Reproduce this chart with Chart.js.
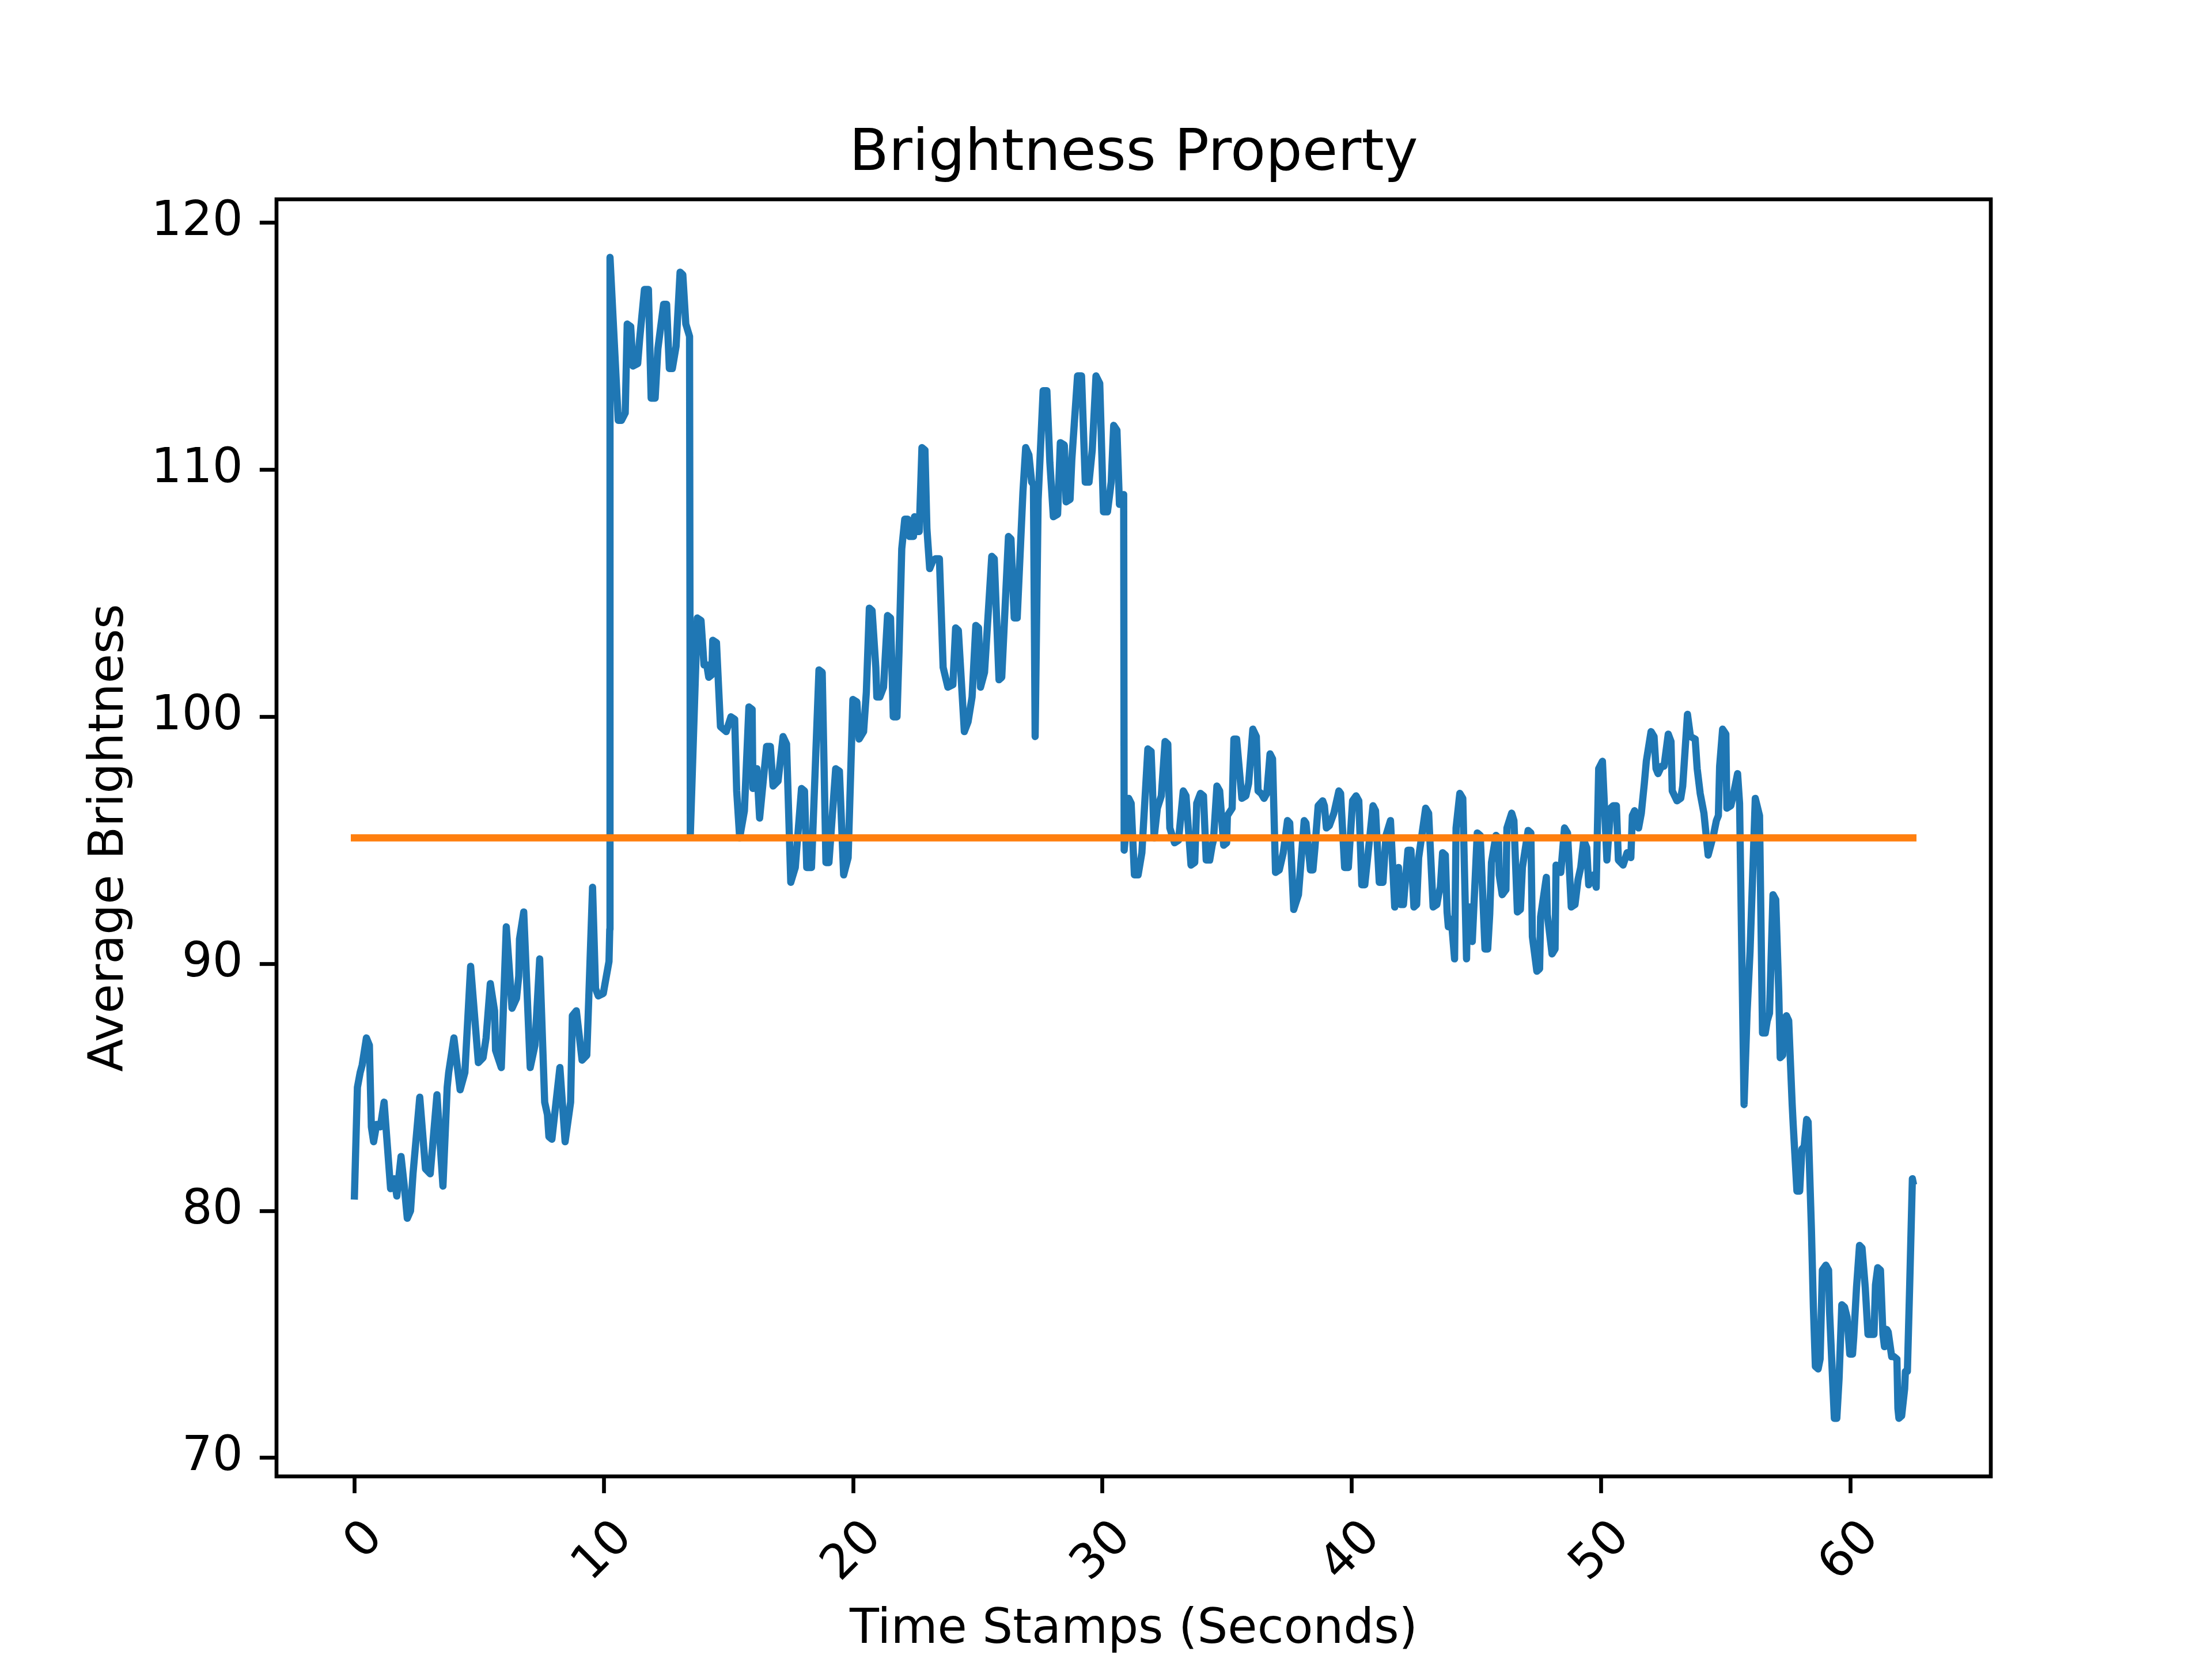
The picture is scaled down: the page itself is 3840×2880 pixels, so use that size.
<!DOCTYPE html>
<html>
<head>
<meta charset="utf-8">
<title>Brightness Property</title>
<script src="https://cdn.jsdelivr.net/npm/chart.js@4.4.0/dist/chart.umd.min.js"></script>
<style>
  html, body { margin: 0; padding: 0; background: #fff; }
  canvas { display: block; }
</style>
</head>
<body>
<canvas id="brightness" width="3840" height="2880"></canvas>
<script>
// ===== Data =====

const chartTitle = 'Brightness Property';
const xAxisTitle = 'Time Stamps (Seconds)';
const yAxisTitle = 'Average Brightness';

// time stamps (seconds) of the brightness samples
const timeStamps = [
    0.00, 0.12, 0.23, 0.31, 0.48, 0.60, 0.68, 0.77, 0.89, 1.04, 1.19, 1.45, 1.60, 1.70, 1.87, 2.00,
    2.12, 2.25, 2.35, 2.62, 2.85, 3.04, 3.31, 3.55, 3.72, 3.78, 3.99, 4.24, 4.43, 4.66, 4.97, 5.16,
    5.28, 5.45, 5.62, 5.66, 5.89, 6.09, 6.24, 6.32, 6.50, 6.59, 6.62, 6.79, 7.05, 7.24, 7.43, 7.63,
    7.74, 7.80, 7.92, 8.24, 8.45, 8.67, 8.74, 8.90, 9.13, 9.32, 9.55, 9.67, 9.78, 9.98, 10.21, 10.24,
    10.25, 10.58, 10.71, 10.86, 10.94, 11.08, 11.17, 11.36, 11.44, 11.63, 11.79, 11.90, 12.06, 12.17, 12.40, 12.52,
    12.63, 12.75, 12.90, 13.06, 13.17, 13.29, 13.44, 13.47, 13.60, 13.75, 13.90, 14.02, 14.13, 14.21, 14.33, 14.37,
    14.52, 14.68, 14.91, 15.10, 15.25, 15.33, 15.45, 15.64, 15.82, 15.95, 15.98, 16.14, 16.25, 16.53, 16.68, 16.79,
    16.99, 17.19, 17.33, 17.50, 17.68, 17.93, 18.05, 18.14, 18.33, 18.63, 18.76, 18.91, 19.03, 19.30, 19.45, 19.62,
    19.80, 19.99, 20.15, 20.24, 20.42, 20.53, 20.65, 20.76, 20.91, 20.95, 21.07, 21.22, 21.38, 21.50, 21.61, 21.76,
    21.84, 21.95, 22.07, 22.19, 22.26, 22.42, 22.46, 22.50, 22.65, 22.76, 22.88, 22.96, 23.07, 23.19, 23.30, 23.46,
    23.61, 23.80, 24.00, 24.11, 24.22, 24.46, 24.61, 24.77, 24.92, 25.03, 25.11, 25.27, 25.56, 25.66, 25.85, 25.96,
    26.23, 26.33, 26.46, 26.58, 26.81, 26.92, 27.05, 27.16, 27.23, 27.30, 27.42, 27.62, 27.77, 27.89, 28.03, 28.20,
    28.31, 28.47, 28.54, 28.70, 28.77, 29.00, 29.16, 29.31, 29.46, 29.59, 29.74, 29.89, 30.04, 30.20, 30.35, 30.45,
    30.58, 30.68, 30.85, 30.87, 31.05, 31.15, 31.28, 31.43, 31.58, 31.82, 31.95, 32.00, 32.07, 32.20, 32.36, 32.51,
    32.62, 32.70, 32.89, 33.05, 33.24, 33.35, 33.55, 33.70, 33.78, 33.93, 34.05, 34.16, 34.30, 34.40, 34.45, 34.59,
    34.70, 34.86, 34.98, 35.01, 35.20, 35.27, 35.38, 35.59, 35.75, 35.86, 36.03, 36.17, 36.24, 36.36, 36.48, 36.59,
    36.72, 36.82, 36.94, 37.09, 37.25, 37.42, 37.51, 37.67, 37.86, 38.09, 38.16, 38.34, 38.44, 38.52, 38.65, 38.83,
    38.90, 38.98, 39.10, 39.28, 39.48, 39.55, 39.71, 39.86, 40.03, 40.17, 40.28, 40.40, 40.52, 40.85, 40.95, 41.10,
    41.25, 41.37, 41.55, 41.72, 41.87, 41.95, 42.07, 42.25, 42.37, 42.49, 42.60, 42.68, 42.96, 43.08, 43.26, 43.41,
    43.48, 43.55, 43.64, 43.75, 43.82, 43.87, 43.99, 44.12, 44.18, 44.33, 44.45, 44.60, 44.64, 44.80, 44.83, 45.03,
    45.15, 45.34, 45.45, 45.53, 45.60, 45.78, 45.88, 45.91, 46.03, 46.18, 46.22, 46.41, 46.50, 46.64, 46.76, 46.84,
    47.07, 47.18, 47.24, 47.42, 47.53, 47.57, 47.80, 47.84, 48.03, 48.15, 48.19, 48.38, 48.53, 48.65, 48.80, 48.95,
    49.07, 49.18, 49.30, 49.42, 49.50, 49.69, 49.80, 49.90, 50.05, 50.23, 50.38, 50.48, 50.61, 50.69, 50.88, 51.04,
    51.19, 51.25, 51.34, 51.50, 51.61, 51.73, 51.81, 52.00, 52.12, 52.20, 52.28, 52.42, 52.52, 52.69, 52.80, 52.85,
    53.04, 53.19, 53.27, 53.46, 53.58, 53.77, 53.85, 53.97, 54.12, 54.29, 54.50, 54.62, 54.70, 54.75, 54.87, 55.00,
    55.04, 55.20, 55.31, 55.47, 55.55, 55.73, 55.85, 55.97, 56.18, 56.35, 56.47, 56.58, 56.66, 56.75, 56.89, 57.00,
    57.12, 57.18, 57.28, 57.31, 57.43, 57.52, 57.66, 57.70, 57.85, 57.96, 58.05, 58.14, 58.24, 58.30, 58.35, 58.43,
    58.51, 58.59, 58.70, 58.78, 58.87, 59.01, 59.12, 59.16, 59.35, 59.45, 59.54, 59.65, 59.76, 59.86, 59.97, 60.08,
    60.13, 60.24, 60.36, 60.46, 60.59, 60.70, 60.82, 60.94, 61.00, 61.09, 61.20, 61.30, 61.36, 61.45, 61.51, 61.65,
    61.74, 61.86, 61.90, 61.94, 62.05, 62.17, 62.20, 62.28, 62.37, 62.48, 62.50
];

// average brightness at each time stamp
const brightness = [
    80.6, 85.0, 85.6, 85.9, 87.0, 86.7, 83.4, 82.8, 83.5, 83.4, 84.4, 80.9, 81.3, 80.6, 82.2, 81.0,
    79.7, 80.0, 81.5, 84.6, 81.7, 81.5, 84.7, 81.0, 85.0, 85.6, 87.0, 84.9, 85.6, 89.9, 86.0, 86.2,
    87.0, 89.2, 88.1, 86.5, 85.8, 91.5, 89.4, 88.2, 88.6, 89.5, 91.0, 92.1, 85.8, 86.7, 90.2, 84.4,
    83.9, 83.0, 82.9, 85.8, 82.8, 84.4, 87.9, 88.1, 86.1, 86.3, 93.1, 89.0, 88.7, 88.8, 90.1, 91.4,
    118.6, 112.0, 112.0, 112.3, 115.9, 115.8, 114.2, 114.3, 115.3, 117.3, 117.3, 112.9, 112.9, 114.9, 116.7, 116.7,
    114.1, 114.1, 115.0, 118.0, 117.9, 115.9, 115.4, 95.2, 99.3, 104.0, 103.9, 102.1, 102.1, 101.6, 101.7, 103.1,
    103.0, 99.6, 99.4, 100.0, 99.9, 97.0, 95.1, 96.2, 100.4, 100.3, 97.1, 97.9, 95.9, 98.8, 98.8, 97.2,
    97.4, 99.2, 98.9, 93.3, 93.9, 97.1, 97.0, 93.9, 93.9, 101.9, 101.8, 94.1, 94.1, 97.9, 97.8, 93.6,
    94.3, 100.7, 100.6, 99.1, 99.4, 101.0, 104.4, 104.3, 102.0, 100.8, 100.8, 101.2, 104.1, 104.0, 100.0, 100.0,
    102.6, 106.8, 108.0, 108.0, 107.3, 107.3, 108.1, 107.5, 107.5, 110.9, 110.8, 107.6, 106.0, 106.3, 106.4, 106.4,
    102.0, 101.2, 101.3, 103.6, 103.5, 99.4, 99.8, 100.8, 103.7, 103.6, 101.2, 101.8, 106.5, 106.4, 101.5, 101.6,
    107.3, 107.2, 104.0, 104.0, 109.1, 110.9, 110.6, 109.5, 109.4, 99.2, 108.8, 113.2, 113.2, 110.3, 108.1, 108.2,
    111.1, 111.0, 108.7, 108.8, 110.4, 113.8, 113.8, 109.5, 109.5, 110.8, 113.8, 113.5, 108.3, 108.3, 109.5, 111.8,
    111.6, 108.6, 109.0, 94.6, 96.7, 96.5, 93.6, 93.6, 94.5, 98.7, 98.6, 97.3, 95.1, 96.3, 96.8, 99.0,
    98.9, 95.5, 94.9, 95.0, 97.0, 96.8, 94.0, 94.1, 96.5, 96.9, 96.8, 94.2, 94.2, 94.8, 95.0, 97.2,
    97.0, 94.8, 94.9, 96.0, 96.3, 99.1, 99.1, 96.7, 96.8, 97.3, 99.5, 99.2, 97.0, 96.9, 96.7, 96.9,
    98.5, 98.3, 93.7, 93.8, 94.5, 95.8, 95.7, 92.2, 92.8, 95.8, 95.7, 93.8, 93.8, 94.7, 96.4, 96.6,
    96.4, 95.5, 95.6, 96.1, 97.0, 96.9, 93.9, 93.9, 96.6, 96.8, 96.6, 93.2, 93.2, 96.4, 96.2, 93.3,
    93.3, 95.2, 95.8, 92.3, 93.9, 92.4, 92.4, 94.6, 94.6, 92.3, 92.4, 94.3, 96.3, 96.1, 92.3, 92.4,
    92.8, 93.1, 94.5, 94.4, 92.1, 91.5, 91.8, 90.2, 95.5, 96.9, 96.7, 90.2, 92.3, 92.3, 90.9, 95.3,
    95.2, 90.6, 90.6, 92.0, 94.1, 95.2, 95.1, 93.6, 92.8, 93.0, 95.5, 96.1, 95.8, 92.1, 92.2, 93.9,
    95.4, 95.3, 91.1, 89.7, 89.8, 91.9, 93.5, 92.0, 90.4, 90.6, 94.0, 93.7, 95.5, 95.3, 92.3, 92.4,
    93.4, 93.9, 95.0, 94.7, 93.2, 93.6, 93.1, 97.9, 98.2, 94.2, 96.3, 96.4, 96.4, 94.2, 94.0, 94.5,
    94.3, 96.0, 96.2, 95.5, 96.1, 97.3, 98.2, 99.4, 99.2, 97.9, 97.7, 98.0, 98.0, 99.3, 99.0, 97.0,
    96.6, 96.7, 97.2, 100.1, 99.2, 99.1, 97.9, 96.9, 96.1, 94.4, 95.2, 95.8, 96.0, 98.0, 99.5, 99.3,
    96.3, 96.4, 96.9, 97.7, 96.5, 84.3, 88.0, 90.5, 96.7, 96.0, 87.2, 87.2, 87.7, 88.0, 92.8, 92.6,
    88.9, 86.2, 86.3, 87.7, 87.9, 87.7, 84.3, 83.5, 80.8, 80.8, 82.5, 82.6, 83.7, 83.6, 81.9, 79.3,
    76.1, 73.7, 73.6, 74.0, 77.6, 77.8, 77.6, 75.9, 71.6, 71.6, 73.2, 76.2, 76.1, 75.7, 74.2, 74.2,
    74.9, 76.9, 78.6, 78.5, 76.9, 75.0, 75.0, 75.0, 77.0, 77.7, 77.6, 75.0, 74.5, 75.2, 75.1, 74.1,
    74.1, 74.0, 72.0, 71.6, 71.7, 72.8, 73.5, 73.5, 76.9, 81.3, 81.2
];

// level of the flat orange line
const meanBrightness = 95.1;

const xTickValues = [0, 10, 20, 30, 40, 50, 60];
const yTickValues = [70, 80, 90, 100, 110, 120];

// ===== Layout (matplotlib 640x480 figure at 600 dpi) =====

const FONT = "'DejaVu Sans', 'Liberation Sans', sans-serif";
const PT = 600 / 72;               // pixels per point
const AXES = { left: 480, right: 3456, top: 346, bottom: 2563 };

/**
 * Axis limits the way matplotlib autoscales them: 5% margin each side
 */
function paddedRange(values) {
    const lo = Math.min(...values);
    const hi = Math.max(...values);
    const m = (hi - lo) * 0.05;
    return { min: lo - m, max: hi + m };
}

const xRange = paddedRange(timeStamps);
const yRange = paddedRange(brightness);

const tickGrid = {
    drawOnChartArea: false,
    drawTicks: true,
    tickLength: 3.5 * PT,
    tickWidth: 0.8 * PT,
    tickColor: '#000'
};

/**
 * Four black spines around the plot, drawn above the lines
 */
const framePlugin = {
    id: 'frame',
    afterDatasetsDraw(chart) {
        const { ctx, chartArea: a } = chart;
        ctx.save();
        ctx.strokeStyle = '#000';
        ctx.lineWidth = 0.8 * PT;
        ctx.lineJoin = 'miter';
        ctx.strokeRect(a.left, a.top, a.right - a.left, a.bottom - a.top);
        ctx.restore();
    }
};

/**
 * Title centred over the axes
 */
const titlePlugin = {
    id: 'axesTitle',
    afterDraw(chart) {
        const { ctx, chartArea: a } = chart;
        ctx.save();
        ctx.fillStyle = '#000';
        ctx.font = `${12 * PT}px ${FONT}`;
        ctx.textAlign = 'center';
        ctx.textBaseline = 'alphabetic';
        ctx.fillText(chartTitle, (a.left + a.right) / 2, 295);
        ctx.restore();
    }
};

const ctx = document.getElementById('brightness');

new Chart(ctx, {
    type: 'line',
    data: {
        datasets: [
            {
                label: 'mean',
                data: [
                    { x: timeStamps[0], y: meanBrightness },
                    { x: timeStamps[timeStamps.length - 1], y: meanBrightness }
                ],
                borderColor: '#ff7f0e',
                borderWidth: 1.5 * PT,
                borderCapStyle: 'square',
                pointRadius: 0,
                tension: 0
            },
            {
                label: 'brightness',
                data: timeStamps.map((t, i) => ({ x: t, y: brightness[i] })),
                borderColor: '#1f77b4',
                borderWidth: 1.5 * PT,
                borderJoinStyle: 'round',
                borderCapStyle: 'square',
                pointRadius: 0,
                tension: 0
            }
        ]
    },
    options: {
        responsive: false,
        devicePixelRatio: 1,
        animation: false,
        events: [],
        layout: {
            padding: { left: 0, top: AXES.top, right: 3840 - AXES.right, bottom: 0 }
        },
        plugins: {
            legend: { display: false },
            tooltip: { enabled: false },
            title: { display: false }
        },
        scales: {
            x: {
                type: 'linear',
                min: xRange.min,
                max: xRange.max,
                afterBuildTicks: (scale) => { scale.ticks = xTickValues.map(v => ({ value: v })); },
                afterFit: (scale) => { scale.height = 2880 - AXES.bottom; },
                grid: tickGrid,
                border: { display: false },
                ticks: {
                    color: '#000',
                    font: { family: FONT, size: 10 * PT },
                    padding: 3.5 * PT,
                    minRotation: 45,
                    maxRotation: 45,
                    labelOffset: 37,
                    autoSkip: false,
                    callback: (v) => String(v)
                },
                title: {
                    display: true,
                    text: xAxisTitle,
                    color: '#000',
                    font: { family: FONT, size: 10 * PT },
                    padding: { top: 0, bottom: 0 }
                }
            },
            y: {
                type: 'linear',
                min: yRange.min,
                max: yRange.max,
                afterBuildTicks: (scale) => { scale.ticks = yTickValues.map(v => ({ value: v })); },
                afterFit: (scale) => { scale.width = AXES.left; },
                grid: tickGrid,
                border: { display: false },
                ticks: {
                    color: '#000',
                    font: { family: FONT, size: 10 * PT },
                    padding: 3.5 * PT,
                    autoSkip: false,
                    callback: (v) => String(v)
                },
                title: {
                    display: true,
                    text: yAxisTitle,
                    color: '#000',
                    font: { family: FONT, size: 10 * PT },
                    padding: { top: 141, bottom: 0 }
                }
            }
        }
    },
    plugins: [framePlugin, titlePlugin]
});
</script>
</body>
</html>
